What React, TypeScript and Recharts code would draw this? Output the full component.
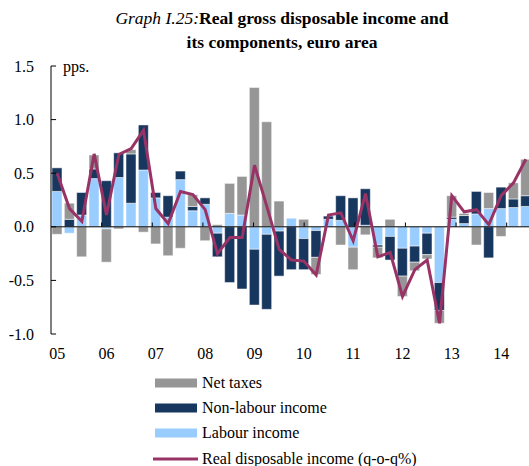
import React from "react";
import { ComposedChart, Bar, Line, XAxis, YAxis, ReferenceLine } from "recharts";

// quarterly data, 2005Q1 - 2014Q3, pps.
const years = ["05", "06", "07", "08", "09", "10", "11", "12", "13", "14"];
const quarters = years.flatMap((y) => ["Q1", "Q2", "Q3", "Q4"].map((q) => y + q)).slice(0, 39);

const labour = [
  0.33, -0.06, 0.11, 0.45, -0.02, 0.46, 0.22, 0.53, 0.27, 0.09, 0.44, 0.15,
  0.21, -0.06, 0.125, 0.11, -0.21, -0.07, -0.04, 0.08, -0.11, -0.035, 0.07, 0.06,
  -0.19, 0.015, -0.17, -0.09, -0.2, -0.18, -0.06, -0.52, 0.07, 0.03, 0.12, 0.17,
  0.17, 0.18, 0.19,
];
const nonLabour = [
  0.22, 0.07, 0.21, 0.09, 0.43, 0.23, 0.46, 0.42, 0.05, 0.2, 0.08, 0.04,
  0.06, -0.22, -0.52, -0.58, -0.52, -0.7, -0.42, -0.4, -0.29, -0.25, 0.03, 0.23,
  0.27, 0.34, -0.02, -0.22, -0.26, -0.15, -0.2, -0.26, 0.02, 0.075, 0.21, -0.29,
  0.2, 0.08, 0.1,
];
const netTaxes = [
  -0.07, 0.15, -0.28, 0.13, -0.31, -0.02, 0.04, -0.05, -0.16, -0.27, -0.2, 0.11,
  -0.13, 0.02, 0.28, 0.36, 1.3, 0.98, 0.24, 0, 0.07, -0.16, 0, -0.17,
  -0.21, -0.075, -0.1, 0.07, -0.19, -0.08, -0.04, -0.12, 0.2, 0.02, -0.17, 0.15,
  -0.09, 0.15, 0.34,
];
const realIncome = [
  0.5, 0.17, 0.05, 0.68, 0.11, 0.675, 0.73, 0.9, 0.17, 0.03, 0.33, 0.3,
  0.16, -0.25, -0.1, -0.1, 0.575, 0.19, -0.21, -0.31, -0.32, -0.45, 0.11, 0.13,
  -0.13, 0.31, -0.28, -0.24, -0.65, -0.4, -0.31, -0.9, 0.29, 0.14, 0.16, 0.02,
  0.29, 0.41, 0.63,
];
const yTicks = [-1, -0.5, 0, 0.5, 1, 1.5];

const COLORS = {
  labour: "#99ccff",
  nonLabour: "#17375e",
  taxes: "#969696",
  line: "#993366",
};

const FONT = "'Liberation Serif', 'Times New Roman', serif";

const data = quarters.map((q, i) => ({
  q,
  labour: labour[i],
  nonLabour: nonLabour[i],
  netTaxes: netTaxes[i],
  realIncome: realIncome[i],
}));

const legendItems = [
  { name: "Net taxes", color: COLORS.taxes, kind: "bar" },
  { name: "Non-labour income", color: COLORS.nonLabour, kind: "bar" },
  { name: "Labour income", color: COLORS.labour, kind: "bar" },
  { name: "Real disposable income (q-o-q%)", color: COLORS.line, kind: "line" },
];

export default function App() {
  const tickStyle = { fontFamily: FONT, fontSize: 16, fill: "#000" };
  return (
    <div style={{ position: "fixed", top: 0, left: 0, width: 529, height: 466, overflow: "hidden", background: "#fff" }}>
      <div
        style={{
          position: "absolute",
          top: 6,
          left: 0,
          width: 564,
          textAlign: "center",
          fontFamily: FONT,
          fontSize: 17.5,
          lineHeight: "24px",
          color: "#000",
        }}
      >
        <i>Graph I.25:</i>
        <b>Real gross disposable income and</b>
        <br />
        <b>its components, euro area</b>
      </div>
      <div
        style={{
          position: "absolute",
          top: 58,
          left: 63,
          fontFamily: FONT,
          fontSize: 16,
          lineHeight: "18px",
        }}
      >
        pps.
      </div>

      <ComposedChart
        width={532}
        height={470}
        data={data}
        stackOffset="sign"
        margin={{ top: 66, right: 0, bottom: 106, left: 0 }}
      >
        <XAxis
          dataKey="q"
          interval={3}
          tickLine={false}
          axisLine={false}
          tickSize={0}
          tickMargin={14}
          height={30}
          tick={tickStyle}
          tickFormatter={(v: string) => v.slice(0, 2)}
        />
        <XAxis xAxisId="t" type="number" domain={[0, 39]} hide />
        <YAxis
          domain={[-1, 1.5]}
          ticks={yTicks}
          width={51}
          tickLine={false}
          tickSize={0}
          tickMargin={17}
          axisLine={{ stroke: "#000", strokeWidth: 1 }}
          tick={tickStyle}
          tickFormatter={(v: number) => v.toFixed(1)}
        />
        <Bar dataKey="labour" stackId="a" fill={COLORS.labour} stroke="#fff" strokeWidth={0.5} barSize={10} isAnimationActive={false} />
        <Bar dataKey="nonLabour" stackId="a" fill={COLORS.nonLabour} stroke="#fff" strokeWidth={0.5} barSize={10} isAnimationActive={false} />
        <Bar dataKey="netTaxes" stackId="a" fill={COLORS.taxes} stroke="#fff" strokeWidth={0.5} barSize={10} isAnimationActive={false} />
        <ReferenceLine y={0} stroke="#000" strokeWidth={1} />
        {years.slice(1).map((y, i) => (
          <ReferenceLine
            key={"xt" + y}
            xAxisId="t"
            segment={[{ x: (i + 1) * 4, y: 0 }, { x: (i + 1) * 4, y: 0.04 }]}
            stroke="#000"
          />
        ))}
        {yTicks.map((v) => (
          <ReferenceLine
            key={"yt" + v}
            xAxisId="t"
            segment={[{ x: 0, y: v }, { x: 0.4, y: v }]}
            stroke="#000"
          />
        ))}
        <Line
          dataKey="realIncome"
          type="linear"
          stroke={COLORS.line}
          strokeWidth={3}
          dot={false}
          isAnimationActive={false}
        />
      </ComposedChart>

      <div style={{ position: "absolute", left: 153, top: 370, fontFamily: FONT, fontSize: 16, color: "#000" }}>
        {legendItems.map((it) => (
          <div key={it.name} style={{ display: "flex", alignItems: "center", height: 25.3, whiteSpace: "nowrap" }}>
            <svg width={49} height={12} style={{ flex: "none" }}>
              {it.kind === "bar" ? (
                <rect x={2} y={1.5} width={42} height={9} fill={it.color} />
              ) : (
                <line x1={0} x2={45} y1={6} y2={6} stroke={it.color} strokeWidth={3} />
              )}
            </svg>
            <span>{it.name}</span>
          </div>
        ))}
      </div>
    </div>
  );
}
